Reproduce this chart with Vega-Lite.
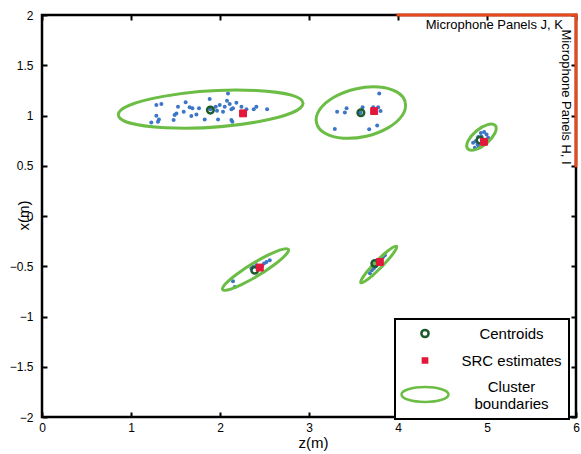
{
  "$schema": "https://vega.github.io/schema/vega-lite/v6.json",
  "width": 534,
  "height": 402,
  "autosize": {"type": "none"},
  "padding": {"left": 42, "top": 15, "right": 5, "bottom": 37},
  "background": "white",
  "config": {
    "font": "Liberation Sans",
    "view": {"stroke": "black", "strokeWidth": 2.5},
    "legend": {"strokeWidth": 2},
    "axis": {
      "domain": false,
      "grid": false,
      "tickColor": "black",
      "tickWidth": 2,
      "tickSize": -5,
      "labelColor": "black",
      "labelFontSize": 12,
      "labelFont": "Liberation Sans",
      "titleColor": "black",
      "titleFontSize": 15,
      "titleFont": "Liberation Sans",
      "titleFontWeight": "normal",
      "labelFlush": false,
      "labelOverlap": false
    }
  },
  "datasets": {
    "dots": [
      {"cluster": "C1", "z": 1.285, "x": 1.104}, {"cluster": "C1", "z": 1.341, "x": 1.114},
      {"cluster": "C1", "z": 1.528, "x": 1.087}, {"cluster": "C1", "z": 1.614, "x": 1.133},
      {"cluster": "C1", "z": 1.659, "x": 1.081}, {"cluster": "C1", "z": 1.690, "x": 1.071},
      {"cluster": "C1", "z": 1.764, "x": 1.071}, {"cluster": "C1", "z": 1.884, "x": 1.163},
      {"cluster": "C1", "z": 2.090, "x": 1.220}, {"cluster": "C1", "z": 1.952, "x": 1.087},
      {"cluster": "C1", "z": 1.997, "x": 1.104}, {"cluster": "C1", "z": 2.053, "x": 1.087},
      {"cluster": "C1", "z": 2.079, "x": 1.146}, {"cluster": "C1", "z": 2.109, "x": 1.114},
      {"cluster": "C1", "z": 2.128, "x": 1.061}, {"cluster": "C1", "z": 2.184, "x": 1.126},
      {"cluster": "C1", "z": 2.241, "x": 1.087}, {"cluster": "C1", "z": 2.146, "x": 1.071},
      {"cluster": "C1", "z": 2.297, "x": 1.061}, {"cluster": "C1", "z": 2.379, "x": 1.061},
      {"cluster": "C1", "z": 2.409, "x": 1.087}, {"cluster": "C1", "z": 2.529, "x": 1.061},
      {"cluster": "C1", "z": 1.285, "x": 0.997}, {"cluster": "C1", "z": 1.314, "x": 0.961},
      {"cluster": "C1", "z": 1.228, "x": 0.931}, {"cluster": "C1", "z": 1.303, "x": 0.937},
      {"cluster": "C1", "z": 1.490, "x": 1.004}, {"cluster": "C1", "z": 1.479, "x": 0.954},
      {"cluster": "C1", "z": 1.510, "x": 1.021}, {"cluster": "C1", "z": 1.592, "x": 1.037},
      {"cluster": "C1", "z": 1.678, "x": 0.994}, {"cluster": "C1", "z": 1.735, "x": 1.011},
      {"cluster": "C1", "z": 1.828, "x": 0.961}, {"cluster": "C1", "z": 1.978, "x": 0.961},
      {"cluster": "C1", "z": 2.034, "x": 1.037}, {"cluster": "C1", "z": 2.128, "x": 0.954},
      {"cluster": "C1", "z": 2.139, "x": 0.937}, {"cluster": "C1", "z": 1.892, "x": 1.061},
      {"cluster": "C1", "z": 1.966, "x": 1.047},
      {"cluster": "C2", "z": 3.789, "x": 1.220}, {"cluster": "C2", "z": 3.316, "x": 1.037},
      {"cluster": "C2", "z": 3.403, "x": 1.031}, {"cluster": "C2", "z": 3.422, "x": 1.071},
      {"cluster": "C2", "z": 3.602, "x": 1.081}, {"cluster": "C2", "z": 3.721, "x": 1.081},
      {"cluster": "C2", "z": 3.777, "x": 1.081}, {"cluster": "C2", "z": 3.804, "x": 1.044},
      {"cluster": "C2", "z": 3.290, "x": 0.865}, {"cluster": "C2", "z": 3.676, "x": 0.862},
      {"cluster": "C2", "z": 3.766, "x": 0.901}, {"cluster": "C2", "z": 3.579, "x": 1.027},
      {"cluster": "C3", "z": 4.931, "x": 0.827}, {"cluster": "C3", "z": 4.968, "x": 0.837},
      {"cluster": "C3", "z": 4.995, "x": 0.812}, {"cluster": "C3", "z": 5.013, "x": 0.778},
      {"cluster": "C3", "z": 4.900, "x": 0.785}, {"cluster": "C3", "z": 4.871, "x": 0.745},
      {"cluster": "C3", "z": 4.844, "x": 0.728}, {"cluster": "C3", "z": 4.894, "x": 0.712},
      {"cluster": "C3", "z": 4.908, "x": 0.688}, {"cluster": "C3", "z": 4.863, "x": 0.678},
      {"cluster": "C3", "z": 4.976, "x": 0.755}, {"cluster": "C3", "z": 4.939, "x": 0.788},
      {"cluster": "C4", "z": 2.559, "x": -0.440}, {"cluster": "C4", "z": 2.522, "x": -0.457},
      {"cluster": "C4", "z": 2.495, "x": -0.473}, {"cluster": "C4", "z": 2.409, "x": -0.490},
      {"cluster": "C4", "z": 2.371, "x": -0.507}, {"cluster": "C4", "z": 2.353, "x": -0.523},
      {"cluster": "C4", "z": 2.146, "x": -0.649}, {"cluster": "C4", "z": 2.165, "x": -0.706},
      {"cluster": "C4", "z": 2.424, "x": -0.520}, {"cluster": "C4", "z": 2.469, "x": -0.500},
      {"cluster": "C5", "z": 3.684, "x": -0.570}, {"cluster": "C5", "z": 3.706, "x": -0.540},
      {"cluster": "C5", "z": 3.729, "x": -0.520}, {"cluster": "C5", "z": 3.751, "x": -0.500},
      {"cluster": "C5", "z": 3.785, "x": -0.460}, {"cluster": "C5", "z": 3.808, "x": -0.440},
      {"cluster": "C5", "z": 3.830, "x": -0.410}, {"cluster": "C5", "z": 3.853, "x": -0.390}
    ],
    "ellipses": [
      {"cluster": "C1", "z": 1.895, "x": 1.064},
      {"cluster": "C2", "z": 3.583, "x": 1.029},
      {"cluster": "C3", "z": 4.938, "x": 0.785},
      {"cluster": "C4", "z": 2.399, "x": -0.532},
      {"cluster": "C5", "z": 3.783, "x": -0.482}
    ],
    "centroids": [
      {"cluster": "C1", "z": 1.892, "x": 1.054},
      {"cluster": "C2", "z": 3.583, "x": 1.027},
      {"cluster": "C3", "z": 4.921, "x": 0.755},
      {"cluster": "C4", "z": 2.390, "x": -0.540},
      {"cluster": "C5", "z": 3.740, "x": -0.473}
    ],
    "src": [
      {"cluster": "C1", "z": 2.259, "x": 1.021},
      {"cluster": "C2", "z": 3.732, "x": 1.044},
      {"cluster": "C3", "z": 4.966, "x": 0.738},
      {"cluster": "C4", "z": 2.447, "x": -0.513},
      {"cluster": "C5", "z": 3.796, "x": -0.457}
    ],
    "panels": [
      {"panel": "J, K", "z": 4, "x": 2},
      {"panel": "J, K", "z": 6, "x": 2},
      {"panel": "H, I", "z": 6, "x": 2},
      {"panel": "H, I", "z": 6, "x": 0.5}
    ]
  },
  "layer": [
    {
      "encoding": {
        "x": {
          "field": "z", "type": "quantitative",
          "scale": {"domain": [0, 6], "nice": false, "zero": false},
          "axis": {"orient": "bottom", "values": [0, 1, 2, 3, 4, 5, 6], "format": "~g", "title": "z(m)", "labelPadding": 10, "titleY": 18, "titleX": 271}
        },
        "y": {
          "field": "x", "type": "quantitative",
          "scale": {"domain": [-2, 2], "nice": false, "zero": false},
          "axis": {"orient": "left", "values": [-2, -1.5, -1, -0.5, 0, 0.5, 1, 1.5, 2], "format": "~g", "title": "x(m)", "labelPadding": 14, "titleX": -11, "titleY": 200, "titleBaseline": "bottom", "titleAngle": -90}
        }
      },
      "layer": [
        {
          "data": {"name": "dots"},
          "mark": {"type": "point", "shape": "circle", "filled": true, "size": 16, "opacity": 1, "color": "#3c76c6", "strokeWidth": 0}
        },
        {
          "data": {"name": "ellipses"},
          "mark": {"type": "point", "filled": false, "size": 4, "strokeWidth": 3, "opacity": 1},
          "encoding": {
            "shape": {
              "field": "cluster", "type": "nominal", "legend": null,
              "scale": {
                "domain": ["C1", "C2", "C3", "C4", "C5"],
                "range": [
                  "M -92.31 5.89 A 92.5 18 -3.65 1 0 92.31 -5.89 A 92.5 18 -3.65 1 0 -92.31 5.89 Z",
                  "M -44.33 10.24 A 45.5 24 -13 1 0 44.33 -10.24 A 45.5 24 -13 1 0 -44.33 10.24 Z",
                  "M -13.79 11.57 A 18 8 -40 1 0 13.79 -11.57 A 18 8 -40 1 0 -13.79 11.57 Z",
                  "M -32.86 20.06 A 38.5 6.5 -31.4 1 0 32.86 -20.06 A 38.5 6.5 -31.4 1 0 -32.86 20.06 Z",
                  "M -17.87 18.19 A 25.5 3.8 -45.5 1 0 17.87 -18.19 A 25.5 3.8 -45.5 1 0 -17.87 18.19 Z"
                ]
              }
            },
            "color": {
              "datum": "Cluster boundaries", "type": "nominal",
              "scale": {"domain": ["Centroids", "SRC estimates", "Cluster boundaries"], "range": ["#1d5a2c", "#e2173b", "#6cbd45"]},
              "legend": {
                "orient": "none",
                "legendX": 353,
                "legendY": 304,
                "title": null,
                "padding": 7,
                "labelFontSize": 15,
                "labelFont": "Liberation Sans",
                "labelColor": "black",
                "labelAlign": "center",
                "labelBaseline": {"expr": "datum.value == 'Cluster boundaries' ? 'bottom' : 'middle'"},
                "labelOffset": 79,
                "symbolOffset": 15.5,
                "symbolSize": 4,
                "symbolStrokeWidth": 2.5,
                "symbolOpacity": 1,
                "symbolType": {"expr": "datum.value == 'Centroids' ? 'M -3.6 0 A 3.6 3.6 0 1 0 3.6 0 A 3.6 3.6 0 1 0 -3.6 0 Z' : datum.value == 'SRC estimates' ? 'M -2.1 -2.1 L 2.1 -2.1 L 2.1 2.1 L -2.1 2.1 Z M -0.6 -0.6 L 0.6 -0.6 L 0.6 0.6 L -0.6 0.6 Z' : 'M -23.5 0 A 23.5 7.5 0 1 0 23.5 0 A 23.5 7.5 0 1 0 -23.5 0 Z'"},
                "rowPadding": 10,
                "labelLimit": 300,
                "strokeColor": "black",
                "fillColor": "white",
                "labelExpr": "datum.label == 'Cluster boundaries' ? ['Cluster', 'boundaries'] : datum.label"
              }
            }
          }
        },
        {
          "data": {"name": "centroids"},
          "mark": {"type": "point", "shape": "circle", "filled": false, "size": 44, "strokeWidth": 2.5, "opacity": 1},
          "encoding": {
            "color": {
              "datum": "Centroids", "type": "nominal",
              "scale": {"domain": ["Centroids", "SRC estimates", "Cluster boundaries"], "range": ["#1d5a2c", "#e2173b", "#6cbd45"]}
            }
          }
        },
        {
          "data": {"name": "src"},
          "mark": {"type": "point", "shape": "square", "filled": false, "fill": "#e2173b", "size": 48, "strokeWidth": 1, "opacity": 1},
          "encoding": {
            "color": {
              "datum": "SRC estimates", "type": "nominal",
              "scale": {"domain": ["Centroids", "SRC estimates", "Cluster boundaries"], "range": ["#1d5a2c", "#e2173b", "#6cbd45"]}
            }
          }
        },
        {
          "data": {"values": [{"label": "Microphone Panels J, K", "z": 6, "x": 2}]},
          "mark": {"type": "text", "align": "right", "baseline": "alphabetic", "dx": -13, "dy": 14, "fontSize": 13, "font": "Liberation Sans", "color": "black"},
          "encoding": {"text": {"field": "label"}}
        },
        {
          "data": {"values": [{"label": "Microphone Panels H, I", "z": 6, "x": 2}]},
          "mark": {"type": "text", "align": "left", "baseline": "alphabetic", "angle": 90, "dx": 14.5, "dy": 14, "fontSize": 13, "font": "Liberation Sans", "color": "black"},
          "encoding": {"text": {"field": "label"}}
        }
      ]
    },
    {
      "data": {"name": "panels"},
      "mark": {"type": "line", "color": "#e8481c", "strokeWidth": 3, "strokeCap": "square"},
      "encoding": {
        "x": {
          "field": "z", "type": "quantitative",
          "scale": {"domain": [0, 6], "nice": false, "zero": false},
          "axis": {"orient": "top", "values": [0, 1, 2, 3, 4, 5, 6], "labels": false, "title": null}
        },
        "y": {
          "field": "x", "type": "quantitative",
          "scale": {"domain": [-2, 2], "nice": false, "zero": false},
          "axis": {"orient": "right", "values": [-2, -1.5, -1, -0.5, 0, 0.5, 1, 1.5, 2], "labels": false, "title": null}
        },
        "detail": {"field": "panel", "type": "nominal"}
      }
    }
  ],
  "resolve": {"axis": {"x": "independent", "y": "independent"}}
}
